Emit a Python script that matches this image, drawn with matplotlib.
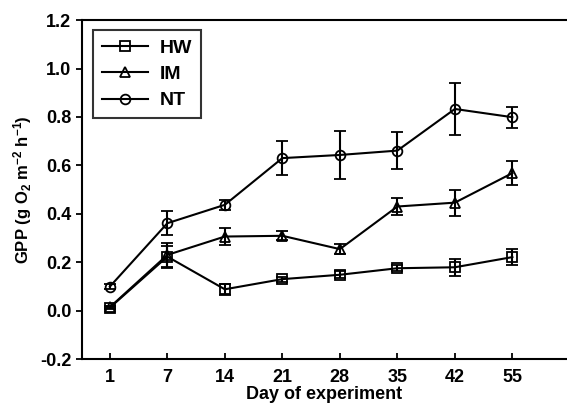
import matplotlib.pyplot as plt
from matplotlib.lines import Line2D
import numpy as np

plt.rcParams['font.family'] = ['Liberation Sans', 'DejaVu Sans']
plt.rcParams['font.weight'] = 'bold'
plt.rcParams['mathtext.fontset'] = 'custom'
plt.rcParams['mathtext.rm'] = 'Liberation Sans:bold'
plt.rcParams['mathtext.default'] = 'rm'

days = ['1', '7', '14', '21', '28', '35', '42', '55']

hw = [0.012, 0.223, 0.088, 0.130, 0.148, 0.175, 0.179, 0.221]
hw_err = [0.005, 0.045, 0.022, 0.010, 0.015, 0.012, 0.034, 0.034]

im = [0.014, 0.230, 0.306, 0.309, 0.254, 0.430, 0.446, 0.568]
im_err = [0.005, 0.050, 0.036, 0.018, 0.020, 0.037, 0.054, 0.050]

nt = [0.099, 0.361, 0.437, 0.630, 0.643, 0.661, 0.833, 0.799]
nt_err = [0.010, 0.050, 0.020, 0.070, 0.098, 0.076, 0.108, 0.044]

fig = plt.figure(figsize=(5.67, 4.11), dpi=100)
ax = fig.add_axes([0.144, 0.1265, 0.856, 0.8245])

x = np.arange(len(days))
style = dict(color='black', lw=1.5, ms=7, mfc='none', mew=1.3,
             capsize=4, elinewidth=1.5, capthick=1.5)
ax.errorbar(x, hw, yerr=hw_err, marker='s', **style)
ax.errorbar(x, im, yerr=im_err, marker='^', **style)
ax.errorbar(x, nt, yerr=nt_err, marker='o', **style)

ax.set_xlim(-0.49, 7.95)
ax.set_ylim(-0.2, 1.2)
ax.set_xticks(x)
ax.set_xticklabels(days)
yt = np.arange(-0.2, 1.21, 0.2)
ax.set_yticks(yt)
ax.set_yticklabels(['%.1f' % v for v in yt])
ax.tick_params(axis='x', direction='in', length=4, width=1.3, labelsize=13, pad=7)
ax.tick_params(axis='y', direction='out', length=4, width=1.3, labelsize=13)

ax.spines['right'].set_visible(False)
for s in ['left', 'top', 'bottom']:
    ax.spines[s].set_linewidth(1.5)

ax.set_xlabel('Day of experiment', fontsize=13, fontweight='bold', labelpad=0)
ax.set_ylabel('GPP (g O$_2$ m$^{-2}$ h$^{-1}$)', fontsize=12, fontweight='bold', labelpad=4)

# legend shows plain line+marker, no error bars
handles = [Line2D([], [], color='black', lw=1.5, marker=m, ms=7, mfc='none', mew=1.3)
           for m in ['s', '^', 'o']]
leg = ax.legend(handles, ['HW', 'IM', 'NT'], loc='upper left',
                bbox_to_anchor=(0.023, 0.97), borderaxespad=0, fontsize=14,
                frameon=True, fancybox=False, edgecolor='black',
                handlelength=2.4, handletextpad=0.6, borderpad=0.45,
                labelspacing=0.45)
leg.get_frame().set_linewidth(1.5)

fig.savefig('out.png', dpi=100)
